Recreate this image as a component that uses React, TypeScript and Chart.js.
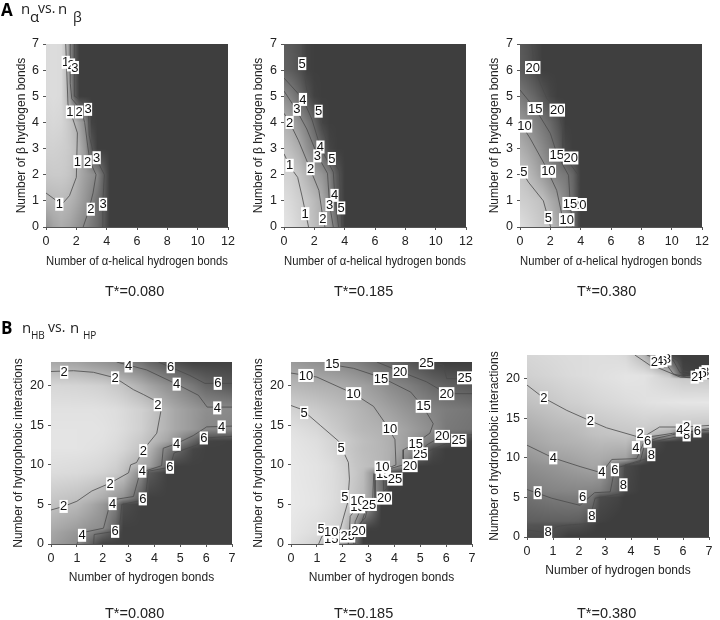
import React, { useEffect, useRef } from "react";
import { Chart, registerables } from "chart.js";
Chart.register(...registerables);

type Pt = [number, number];
type Lab = [number, number, string];

const aXsA1 = [0, 0.5, 1, 1.3, 1.6, 1.9, 2.2, 2.6, 3, 3.4, 3.8, 4.2, 12];
const aYs = [0, 1, 2, 3, 4, 5, 6, 7];
const a1Values = [
  [1.9, 1.5, 1.3, 1.4, 1.5, 1.7, 1.9, 2.1, 2.4, 2.7, 3.1, 3.7, 3.7],
  [1.1, 1.05, 1, 1.05, 1.15, 1.3, 1.5, 1.8, 2.15, 2.6, 3.05, 3.7, 3.7],
  [0.7, 0.65, 0.65, 0.7, 0.8, 1, 1.3, 1.6, 1.85, 2.1, 2.95, 3.7, 3.7],
  [0.5, 0.5, 0.55, 0.6, 0.7, 0.9, 1.2, 1.8, 3.1, 3.7, 3.7, 3.7, 3.7],
  [0.4, 0.35, 0.4, 0.55, 0.75, 1.05, 1.5, 2.1, 3.6, 3.7, 3.7, 3.7, 3.7],
  [0.3, 0.25, 0.3, 0.8, 1.8, 3, 3.7, 3.7, 3.7, 3.7, 3.7, 3.7, 3.7],
  [0.3, 0.25, 0.3, 0.8, 2.1, 3.1, 3.7, 3.7, 3.7, 3.7, 3.7, 3.7, 3.7],
  [0.3, 0.25, 0.3, 0.8, 2.1, 3.1, 3.7, 3.7, 3.7, 3.7, 3.7, 3.7, 3.7],
];
const a1Contours: Pt[][] = [
  [[0, 1.3], [0.8, 0.96], [1.1, 0.9], [1.55, 1.2], [2, 1.9], [2.07, 3.6], [1.45, 4.7], [1.3, 7]],
  [[2.45, 0], [2.8, 0.6], [3.1, 1.3], [3.3, 2], [2.9, 2.5], [2.75, 3.1], [2.55, 4], [2.3, 4.5], [1.7, 4.9], [1.6, 5.5], [1.6, 7]],
  [[3.7, 0], [3.75, 1], [3.85, 2], [3.5, 2.4], [3.1, 2.9], [2.85, 3.5], [2.8, 4.4], [2.4, 4.8], [1.9, 5], [1.87, 7]],
];
const a1Labels: Lab[] = [
  [1.3, 6.3, "1"], [1.65, 6.2, "2"], [1.9, 6.1, "3"], [1.58, 4.4, "1"], [2.18, 4.4, "2"], [2.77, 4.5, "3"],
  [2.07, 2.5, "1"], [2.75, 2.5, "2"], [3.34, 2.65, "3"], [0.88, 0.87, "1"], [2.95, 0.68, "2"], [3.76, 0.87, "3"],
];

const aXs = [0, 0.5, 1, 1.5, 2, 2.5, 3, 3.5, 4, 12];
const a2Values = [
  [0.2, 0.4, 0.7, 0.95, 1.4, 1.8, 2.55, 3.7, 5.3, 5.3],
  [0.4, 0.6, 0.85, 1.1, 1.5, 1.95, 3, 4.4, 5.3, 5.3],
  [0.75, 0.85, 1.2, 1.7, 2.2, 2.6, 3.25, 4.5, 5.3, 5.3],
  [1.2, 1.5, 1.9, 2.7, 3.35, 4.1, 5.1, 5.3, 5.3, 5.3],
  [1.8, 2.1, 2.75, 3.35, 4.1, 5.1, 5.3, 5.3, 5.3, 5.3],
  [2.9, 3.3, 3.9, 4.6, 5.2, 5.3, 5.3, 5.3, 5.3, 5.3],
  [4.2, 4.4, 4.7, 5.2, 5.3, 5.3, 5.3, 5.3, 5.3, 5.3],
  [4.4, 4.5, 4.7, 5.2, 5.3, 5.3, 5.3, 5.3, 5.3, 5.3],
];
const a2Contours: Pt[][] = [
  [[0, 2.8], [0.4, 2.3], [0.9, 1.9], [1.2, 1.15], [1.62, 0]],
  [[0, 4.35], [0.37, 4], [0.96, 3.3], [1.6, 2.4], [2.3, 1.4], [2.55, 0.4], [2.7, 0]],
  [[0, 5.2], [0.8, 4.5], [1.5, 3.75], [2.2, 2.75], [2.87, 2.05], [3, 0.87], [3.25, 0]],
  [[0, 5.7], [1.25, 4.9], [1.85, 4.1], [2.4, 3.05], [3.25, 2.1], [3.35, 1.2], [3.6, 0]],
  [[1.25, 7], [1.25, 6.25], [1.5, 5.25], [2.3, 4.47], [2.6, 3.7], [3.15, 2.6], [3.65, 2.15], [3.77, 0.77], [3.82, 0]],
];
const a2Labels: Lab[] = [
  [1.2, 6.25, "5"], [1.25, 4.88, "4"], [0.85, 4.5, "3"], [2.28, 4.43, "5"], [0.37, 4, "2"], [2.4, 3.06, "4"],
  [2.2, 2.72, "3"], [3.15, 2.62, "5"], [0.37, 2.36, "1"], [1.75, 2.23, "2"], [3.33, 1.21, "4"], [3, 0.86, "3"],
  [3.77, 0.73, "5"], [1.4, 0.51, "1"], [2.57, 0.32, "2"],
];

const a3Values = [
  [1, 2, 3, 4, 5, 8, 9.5, 15, 22, 22],
  [3, 3.5, 4.2, 5, 7.5, 9.5, 12.5, 16.5, 22, 22],
  [4.3, 5.5, 7.5, 9.8, 12, 13.5, 14.5, 17, 22, 22],
  [7, 8.5, 10.2, 12.2, 14.2, 17, 21, 22, 22, 22],
  [10, 11.5, 13, 14.7, 16.5, 19, 22, 22, 22, 22],
  [14, 15.5, 17, 19, 21, 22, 22, 22, 22, 22],
  [18, 19, 20.5, 22, 22, 22, 22, 22, 22, 22],
  [18.5, 19.5, 20.8, 22, 22, 22, 22, 22, 22, 22],
];
const a3Contours: Pt[][] = [
  [[0, 2.24], [0.55, 1.72], [1.54, 1], [2.02, 0]],
  [[0, 4], [0.66, 3.4], [1.65, 2.36], [2.42, 1.4], [2.75, 0.5], [3.1, 0]],
  [[0, 5.24], [1, 4.53], [2, 3.58], [2.46, 2.75], [3.2, 1.98], [3.3, 1.02], [3.47, 0]],
  [[0.81, 7], [0.88, 6.13], [1.76, 4.92], [2.46, 4.47], [2.8, 3.83], [2.82, 2.8], [3.85, 1.98], [3.9, 0]],
];
const a3Labels: Lab[] = [
  [0.84, 6.1, "20"], [1, 4.53, "15"], [2.46, 4.47, "20"], [0.3, 3.86, "10"], [2.42, 2.75, "15"], [3.34, 2.64, "20"],
  [0.26, 2.1, "5"], [1.87, 2.13, "10"], [3.9, 0.86, "20"], [3.3, 0.9, "15"], [1.87, 0.36, "5"], [3.08, 0.28, "10"],
];

const bXs = [0, 1, 1.6, 2, 2.5, 2.8, 3.5, 3.8, 4.5, 4.8, 5.5, 6, 7];
const bYs = [0, 1.5, 2, 5, 5.8, 9, 9.8, 12, 13, 14.5, 17, 20, 23];
const b1Values = [
  [3.2, 4, 5.9, 7, 7, 7, 7, 7, 7, 7, 7, 7, 7],
  [2.9, 3.6, 4.4, 5.2, 6.5, 7, 7, 7, 7, 7, 7, 7, 7],
  [2.7, 3.3, 3.8, 4, 5.7, 7, 7, 7, 7, 7, 7, 7, 7],
  [1.8, 2.2, 2.9, 3.5, 4.5, 6.5, 7, 7, 7, 7, 7, 7, 7],
  [1.6, 1.9, 2.3, 2.7, 3.4, 3.8, 5.9, 7, 7, 7, 7, 7, 7],
  [0.8, 0.9, 1.05, 1.2, 1.5, 1.85, 4.2, 6, 7, 7, 7, 7, 7],
  [0.7, 0.8, 0.9, 1, 1.3, 1.7, 2.8, 3.2, 5.7, 7, 7, 7, 7],
  [0.5, 0.5, 0.6, 0.7, 0.9, 1.1, 1.8, 2.4, 4.5, 5.2, 6.8, 7, 7],
  [0.5, 0.5, 0.55, 0.6, 0.8, 1, 1.6, 2, 3, 3.7, 5.5, 6.9, 7],
  [0.5, 0.5, 0.5, 0.55, 0.7, 0.85, 1.3, 1.7, 2.5, 2.9, 3.5, 4.1, 4.3],
  [0.6, 0.6, 0.6, 0.65, 0.75, 0.9, 1.3, 1.6, 2.5, 2.9, 3.5, 3.9, 4.1],
  [1, 1.1, 1.2, 1.3, 1.6, 1.8, 2.6, 3, 3.8, 4, 4.8, 5.5, 6.1],
  [2.9, 3.1, 3.5, 3.7, 4, 4.4, 5, 5.5, 6.2, 6.5, 7, 7, 7],
];
const b1Contours: Pt[][] = [
  [[0, 4.3], [0.49, 4.75], [1, 5.4], [1.58, 6.7], [2.29, 7.7], [3, 9], [3.08, 10], [3.31, 10.3], [3.57, 11.9], [4.09, 14], [4.25, 16.8], [4.15, 17.9], [3.57, 18.9], [3.19, 19.5], [2.48, 21], [1.64, 21.7], [0.87, 21.9], [0, 21.8]],
  [[1, 0], [1.26, 1.47], [2.03, 2], [2.29, 5.2], [2.42, 5.6], [3.19, 6], [3.44, 9], [4.28, 9.9], [4.34, 12.1], [4.86, 12.7], [5.5, 13.7], [6.02, 14.8], [7, 14.9]],
  [[2.54, 23], [3, 22.6], [3.7, 22], [4.86, 20.2], [5.7, 18.8], [6.04, 17.3], [7, 17.3]],
  [[1.65, 0], [1.67, 1.2], [2.48, 1.6], [2.65, 2], [2.74, 5], [3.64, 5.6], [3.77, 9.2], [4.6, 9.7], [4.76, 11.5], [5.63, 12.5], [5.95, 13.4], [7, 13.6]],
  [[4.15, 23], [4.73, 22.2], [5.37, 21.3], [5.95, 20.3], [7, 20.3]],
];
const b1Labels: Lab[] = [
  [0.51, 21.7, "2"], [3, 22.5, "4"], [4.63, 22.4, "6"], [2.48, 21, "2"], [4.86, 20.2, "4"], [6.45, 20.3, "6"],
  [4.13, 17.6, "2"], [6.43, 17.2, "4"], [6.6, 14.8, "4"], [5.91, 13.4, "6"], [4.86, 12.6, "4"], [3.57, 11.8, "2"],
  [3.53, 9.2, "4"], [4.6, 9.7, "6"], [2.29, 7.6, "2"], [2.38, 5.1, "4"], [3.55, 5.7, "6"], [0.49, 4.75, "2"],
  [1.2, 1.1, "4"], [2.48, 1.6, "6"],
];

const b2Values = [
  [2, 4.5, 11, 13, 20, 27, 27, 27, 27, 27, 27, 27, 27],
  [1.5, 3, 4.2, 5.5, 16, 27, 27, 27, 27, 27, 27, 27, 27],
  [1.5, 2.8, 4, 5.2, 15, 26, 27, 27, 27, 27, 27, 27, 27],
  [1, 1.8, 3, 4.2, 7, 9, 27, 27, 27, 27, 27, 27, 27],
  [1, 1.8, 2.9, 4, 7, 8.5, 19, 27, 27, 27, 27, 27, 27],
  [1.2, 2, 3, 4.2, 6.2, 7.8, 20, 26, 27, 27, 27, 27, 27],
  [1.2, 2, 3, 4.5, 6.5, 7.2, 8.8, 9.9, 18.5, 27, 27, 27, 27],
  [1.5, 2.5, 4, 5.4, 7, 7.8, 8.9, 9.7, 13, 15, 25, 27, 27],
  [1.7, 2.8, 4.2, 5.3, 6.8, 7.6, 9, 9.8, 12.5, 14, 18.5, 22, 27],
  [2.3, 3.8, 5.5, 6.5, 8, 8.6, 9.5, 10, 12, 13, 15.2, 18, 19],
  [4.5, 5.8, 7, 7.7, 8.8, 9.5, 11.2, 12, 14, 14.7, 16.5, 17.5, 18.5],
  [8.5, 9.5, 10, 10.5, 11.5, 12, 14, 15.2, 17, 18, 20.5, 21.5, 23],
  [13, 14.5, 15.5, 16, 17, 18, 20.5, 21, 23, 24, 26, 27, 27],
];
const b2Contours: Pt[][] = [
  [[0, 17.5], [0.42, 17], [1.13, 15], [1.84, 13], [2.22, 10.3], [2.26, 8.2], [2.19, 5.2], [2, 3], [1.9, 1.8], [1.2, 1], [1.07, 0]],
  [[0, 21.6], [1, 21.1], [2.42, 19], [3.19, 17.4], [3.7, 15], [4.02, 13.2], [4.06, 10], [3.77, 9.6], [3.2, 8.9], [3.16, 5.6], [2.48, 4.3], [2.29, 3.5], [2.26, 1.8], [1.32, 1], [1.32, 0]],
  [[1.5, 22.7], [2.42, 22.2], [3.53, 21], [4.63, 19.2], [5.12, 17.3], [5.5, 15.2], [5.37, 14], [4.8, 12.7], [4.34, 11.9], [4.34, 10], [3.7, 9.4], [3.25, 8.9], [3.25, 5.6], [2.74, 4.7], [2.48, 2.8], [2.42, 0]],
  [[3.32, 23], [4.22, 21.8], [5.24, 20.5], [6.02, 19], [7, 19]],
  [[7, 13.8], [5.82, 13.6], [5.24, 12.5], [4.99, 11], [4.6, 9.8], [3.57, 8.1], [3.6, 5.8], [3, 5.4], [2.76, 3], [2.55, 1.6], [2.48, 0]],
  [[5.24, 23], [5.89, 22.6], [6.02, 20.9], [7, 20.9]],
  [[7, 13.2], [6.02, 12.7], [5, 11.3], [4.09, 8.1], [3, 5], [2.87, 3.3], [2.22, 1], [2.22, 0]],
];
const b2Labels: Lab[] = [
  [1.6, 22.7, "15"], [0.58, 21.3, "10"], [4.22, 21.8, "20"], [5.24, 22.9, "25"], [6.72, 21, "25"], [3.48, 20.9, "15"],
  [2.42, 19, "10"], [6.02, 19, "20"], [0.51, 16.6, "5"], [5.12, 17.4, "15"], [3.83, 14.6, "10"], [6.49, 13.1, "25"],
  [5.85, 13.6, "20"], [5, 11.4, "25"], [4.82, 12.7, "15"], [1.94, 12.1, "5"], [3.57, 8.9, "15"], [3.53, 9.7, "10"],
  [4.6, 9.9, "20"], [4.02, 8.2, "25"], [2.08, 6, "5"], [2.57, 4.7, "15"], [2.57, 5.5, "10"], [3.02, 5, "25"],
  [3.61, 5.8, "20"], [1.16, 1.9, "5"], [1.56, 0.7, "15"], [1.56, 1.5, "10"], [2.19, 1, "25"], [2.61, 1.7, "20"],
];

const b3Ys = [0, 1.5, 2, 5, 5.8, 9, 9.8, 12, 13, 14, 17, 20, 20.4, 23];
const b3Values = [
  [8.3, 8.2, 9, 9, 9, 9, 9, 9, 9, 9, 9, 9, 9],
  [7.8, 7.9, 8, 8.1, 8.6, 9, 9, 9, 9, 9, 9, 9, 9],
  [7.3, 7.2, 7.2, 7.3, 8.2, 8.7, 9, 9, 9, 9, 9, 9, 9],
  [6.4, 5.95, 5.8, 5.8, 6.2, 8.2, 8.6, 9, 9, 9, 9, 9, 9],
  [5.8, 5.4, 5.3, 5.3, 5.4, 5.6, 7.2, 8.5, 9, 9, 9, 9, 9],
  [4.9, 4.5, 4.2, 4, 3.7, 3.8, 6.5, 8.3, 9, 9, 9, 9, 9],
  [4.6, 4.05, 3.9, 3.7, 3.5, 3.5, 3.9, 4, 7.5, 9, 9, 9, 9],
  [3.85, 3.3, 3.1, 3, 2.8, 2.7, 2.7, 2.6, 4.2, 8.2, 9, 9, 9],
  [3.6, 3.1, 2.9, 2.7, 2.4, 2.3, 2.15, 2.1, 2.1, 2.5, 3.6, 7.5, 8.9],
  [3.3, 2.8, 2.6, 2.5, 2.2, 2.1, 1.9, 1.85, 1.7, 1.8, 1.95, 1.95, 2.1],
  [2.4, 2, 1.7, 1.6, 1.4, 1.3, 1.1, 1, 0.8, 0.7, 0.6, 0.55, 0.5],
  [1.7, 1.4, 1.2, 1.1, 0.95, 0.85, 0.7, 0.6, 0.7, 1, 1.5, 1.9, 2],
  [1.6, 1.3, 1.1, 1, 0.9, 0.85, 0.7, 0.6, 0.7, 0.9, 2.2, 8.5, 9],
  [1.3, 1.1, 1, 1, 0.9, 0.9, 1, 1.2, 3, 4.5, 8.5, 9, 9],
];
const b3Contours: Pt[][] = [
  [[0, 19.2], [0.63, 17.6], [1.53, 16], [2.42, 14.7], [3.06, 13.8], [4.22, 12.7], [4.6, 12.9], [5.1, 13.9], [6.1, 13.9], [7, 14.1]],
  [[0, 11.6], [1, 10], [2.04, 8.9], [2.87, 8.1], [3.26, 9.8], [4.22, 9.9], [4.47, 11.8], [5, 12.5], [5.7, 13], [7, 13.7]],
  [[0, 6], [0.95, 4.9], [2.04, 4], [2.6, 5.6], [3.2, 5.7], [3.38, 8.7], [4.35, 9.5], [4.6, 12.6], [5.6, 13.1], [7, 13.5]],
  [[0, 0.9], [0.82, 0.5], [1.14, 1.3], [1.53, 1.5], [2.36, 1.7], [2.62, 4.9], [3.7, 5.5], [3.77, 9.1], [4.6, 9.9], [4.8, 12], [6.14, 12.9], [7, 13.1]],
  [[4.15, 23], [4.73, 21.7], [5.1, 21.3], [5.9, 20.2], [7, 20]],
  [[4.6, 23], [5.25, 22.3], [5.63, 20.6], [6.14, 20.2], [7, 20.1]],
  [[5.18, 23], [5.63, 22.3], [5.88, 20.8], [6.4, 20.3], [7, 20.2]],
  [[5.4, 23], [5.8, 22.3], [6, 21], [6.6, 20.6], [7, 20.6]],
];
const b3Labels: Lab[] = [
  [0.65, 17.6, "2"], [2.44, 14.7, "2"], [4.35, 13, "2"], [4.19, 11.3, "4"], [4.64, 12.1, "6"], [4.78, 10.4, "8"],
  [1.01, 10, "4"], [2.88, 8.2, "4"], [3.38, 8.5, "6"], [3.71, 6.6, "8"], [0.41, 5.6, "6"], [2.14, 5.1, "6"],
  [2.49, 2.7, "8"], [0.81, 0.6, "8"], [6.14, 12.9, "8"], [5.88, 13.5, "4"], [6.14, 13.9, "2"], [6.55, 13.4, "6"],
  [5.4, 22.5, "8"], [5.25, 22.3, "6"], [5.1, 22.2, "4"], [4.9, 22.1, "2"],
  [6.87, 20.9, "8"], [6.77, 20.7, "6"], [6.62, 20.4, "4"], [6.45, 20.2, "2"],
];

const xTitleA = "Number of α-helical hydrogen bonds";
const yTitleA = "Number of β hydrogen bonds";
const xTitleB = "Number of hydrogen bonds";
const yTitleB = "Number of hydrophobic interactions";
const temperatures = ["T*=0.080", "T*=0.185", "T*=0.380"];

const FONT = '"Liberation Sans", Arial, sans-serif';

type Panel = {
  xs: number[]; ys: number[]; values: number[][]; contours: Pt[][]; labels: Lab[];
  light: number; slope: number;
  xMax: number; yMax: number; xStep: number; yStep: number; xTitle: string; yTitle: string;
  box: { left: number; top: number; right: number; bottom: number };
  plot: { left: number; top: number; right: number; bottom: number };
};

const aBottom = 269, bBottom = 585;
const panels: Panel[] = [
  { xs: aXsA1, ys: aYs, values: a1Values, contours: a1Contours, labels: a1Labels, light: 232, slope: 46, xMax: 12, yMax: 7, xStep: 2, yStep: 1, xTitle: xTitleA, yTitle: yTitleA,
    box: { left: 14, top: 34, right: 240, bottom: aBottom }, plot: { left: 46, top: 44, right: 228, bottom: 227 } },
  { xs: aXs, ys: aYs, values: a2Values, contours: a2Contours, labels: a2Labels, light: 235, slope: 32.6, xMax: 12, yMax: 7, xStep: 2, yStep: 1, xTitle: xTitleA, yTitle: yTitleA,
    box: { left: 251, top: 34, right: 478, bottom: aBottom }, plot: { left: 284, top: 44, right: 466, bottom: 227 } },
  { xs: aXs, ys: aYs, values: a3Values, contours: a3Contours, labels: a3Labels, light: 230, slope: 7.6, xMax: 12, yMax: 7, xStep: 2, yStep: 1, xTitle: xTitleA, yTitle: yTitleA,
    box: { left: 487, top: 34, right: 714, bottom: aBottom }, plot: { left: 520, top: 44, right: 702, bottom: 227 } },
  { xs: bXs, ys: bYs, values: b1Values, contours: b1Contours, labels: b1Labels, light: 240, slope: 25, xMax: 7, yMax: 23, xStep: 1, yStep: 5, xTitle: xTitleB, yTitle: yTitleB,
    box: { left: 11, top: 352, right: 240, bottom: bBottom }, plot: { left: 51, top: 362, right: 232, bottom: 544 } },
  { xs: bXs, ys: bYs, values: b2Values, contours: b2Contours, labels: b2Labels, light: 240, slope: 6.6, xMax: 7, yMax: 23, xStep: 1, yStep: 5, xTitle: xTitleB, yTitle: yTitleB,
    box: { left: 251, top: 352, right: 480, bottom: bBottom }, plot: { left: 291, top: 362, right: 472, bottom: 544 } },
  { xs: bXs, ys: b3Ys, values: b3Values, contours: b3Contours, labels: b3Labels, light: 240, slope: 20, xMax: 7, yMax: 23, xStep: 1, yStep: 5, xTitle: xTitleB, yTitle: yTitleB,
    box: { left: 487, top: 345, right: 718, bottom: bBottom - 7 }, plot: { left: 527, top: 355, right: 709, bottom: 537 } },
];

function seg(nodes: number[], v: number): [number, number] {
  let i = 0;
  while (i < nodes.length - 2 && v > nodes[i + 1]) i++;
  const t = (v - nodes[i]) / (nodes[i + 1] - nodes[i]);
  return [i, Math.min(1, Math.max(0, t))];
}

const surfacePlugin = {
  id: "surface",
  beforeDatasetsDraw(chart: any, _a: any, o: any) {
    const { ctx, chartArea: ca, scales } = chart;
    const p: Panel = o.panel;
    ctx.save();
    for (let px = Math.floor(ca.left); px < Math.ceil(ca.right); px++) {
      const [ix, tx] = seg(p.xs, scales.x.getValueForPixel(px + 0.5));
      for (let py = Math.floor(ca.top); py < Math.ceil(ca.bottom); py++) {
        const [iy, ty] = seg(p.ys, scales.y.getValueForPixel(py + 0.5));
        const r0 = p.values[iy], r1 = p.values[iy + 1];
        const v = (r0[ix] * (1 - tx) + r0[ix + 1] * tx) * (1 - ty) + (r1[ix] * (1 - tx) + r1[ix + 1] * tx) * ty;
        const g = Math.round(Math.max(62, p.light - p.slope * v));
        ctx.fillStyle = `rgb(${g},${g},${g})`;
        ctx.fillRect(px, py, 1, 1);
      }
    }
    ctx.restore();
  },
  afterDatasetsDraw(chart: any, _a: any, o: any) {
    const { ctx, scales } = chart;
    const p: Panel = o.panel;
    ctx.save();
    ctx.font = `13px ${FONT}`;
    ctx.textAlign = "center";
    ctx.textBaseline = "middle";
    for (const [x, y, s] of p.labels) {
      const cx = scales.x.getPixelForValue(x), cy = scales.y.getPixelForValue(y);
      const w = ctx.measureText(s).width + 1;
      ctx.fillStyle = "#fff";
      ctx.fillRect(cx - w / 2, cy - 6.5, w, 13);
      ctx.fillStyle = "#111";
      ctx.fillText(s, cx, cy + 0.5);
    }
    ctx.restore();
  },
};

function PanelChart({ panel }: { panel: Panel }) {
  const ref = useRef<HTMLCanvasElement>(null);
  useEffect(() => {
    const { box, plot } = panel;
    const fitY = (s: any) => { s.width = plot.left - box.left; s.paddingTop = 0; s.paddingBottom = 0; };
    const fitX = (s: any) => { s.height = box.bottom - plot.bottom; s.paddingLeft = 0; s.paddingRight = 0; };
    const tick = { color: "#222", font: { family: FONT, size: 12.5 }, includeBounds: false, maxRotation: 0, autoSkip: false, padding: 4 };
    const grid = { drawOnChartArea: false, tickLength: 3, color: "#555" };
    const chart = new Chart(ref.current!, {
      type: "scatter",
      data: {
        datasets: panel.contours.map((c) => ({
          data: c.map(([x, y]) => ({ x, y })),
          showLine: true, pointRadius: 0, borderColor: "#4a4a4a", borderWidth: 0.8, tension: 0,
        })),
      },
      options: {
        responsive: false, animation: false,
        layout: { padding: { top: plot.top - box.top, right: box.right - plot.right, left: 0, bottom: 0 } },
        plugins: { legend: { display: false }, tooltip: { enabled: false }, surface: { panel } } as any,
        scales: {
          x: { type: "linear", min: 0, max: panel.xMax, afterFit: fitX, ticks: { ...tick, stepSize: panel.xStep }, grid, border: { color: "#555" },
            title: { display: true, text: panel.xTitle, color: "#222", font: { family: FONT, size: 12 }, padding: 0 } },
          y: { type: "linear", min: 0, max: panel.yMax, afterFit: fitY, ticks: { ...tick, stepSize: panel.yStep }, grid, border: { color: "#555" },
            title: { display: true, text: panel.yTitle, color: "#222", font: { family: FONT, size: 12 }, padding: 0 } },
        },
      },
      plugins: [surfacePlugin],
    } as any);
    return () => chart.destroy();
  }, [panel]);
  const { box } = panel;
  return (
    <canvas ref={ref} width={box.right - box.left} height={box.bottom - box.top}
      style={{ position: "absolute", left: box.left, top: box.top, width: box.right - box.left, height: box.bottom - box.top }} />
  );
}

const txt = (left: number, top: number, s: string, size: number, extra: React.CSSProperties = {}) => (
  <span style={{ position: "absolute", left, top, fontSize: size, lineHeight: 1, fontFamily: '"Open Sans", sans-serif', color: "#222", whiteSpace: "nowrap", ...extra }}>{s}</span>
);

export default function App() {
  const tStyle: React.CSSProperties = { fontFamily: FONT, color: "#222" };
  return (
    <div style={{ position: "absolute", left: 0, top: 0, width: 720, height: 620, background: "#fff", filter: "blur(0.35px)" }}>
      {txt(1, 1, "A", 17, { fontWeight: 700, color: "#000" })}
      {txt(21, 1, "n", 15)}{txt(30, 9, "α", 15)}{txt(38, 1, "vs.", 14)}{txt(58, 1, "n", 15)}{txt(73, 10, "β", 14)}
      {txt(1, 319, "B", 17, { fontWeight: 700, color: "#000" })}
      {txt(22, 320, "n", 15)}{txt(31, 330, "HB", 10)}{txt(48, 320, "vs.", 14)}{txt(70, 320, "n", 15)}{txt(83, 330, "HP", 10)}
      {panels.map((p, i) => <PanelChart key={i} panel={p} />)}
      {temperatures.map((t, i) => txt([105, 334, 577][i], 284, t, 14.5, tStyle))}
      {temperatures.map((t, i) => txt([105, 334, 577][i], 606, t, 14.5, tStyle))}
    </div>
  );
}
